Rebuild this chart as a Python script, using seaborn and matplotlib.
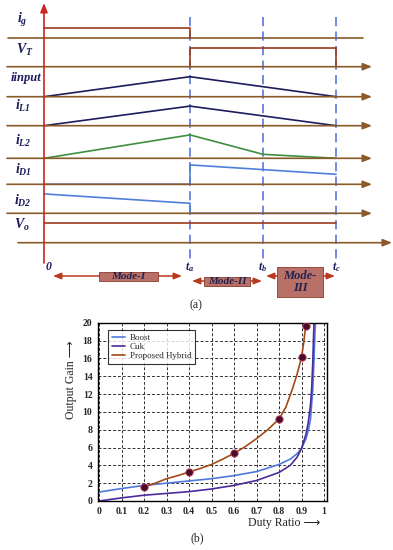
import numpy as np
import pandas as pd
import matplotlib
matplotlib.use("Agg")
import matplotlib.pyplot as plt
from matplotlib.patches import Rectangle
import seaborn as sns

# ------------------------- data: panel (b) -------------------------
duty_boost = [0.0, 0.1, 0.2, 0.3, 0.4, 0.5, 0.6, 0.7, 0.8, 0.85, 0.88, 0.9, 0.92, 0.93, 0.94, 0.95, 0.955, 0.96, 0.963]
gain_boost = [1.0, 1.4, 1.75, 2.0, 2.25, 2.5, 2.85, 3.3, 4.1, 4.7, 5.3, 5.9, 7.0, 7.9, 9.2, 12.5, 15.5, 19.0, 20.5]

duty_cuk = [0.0, 0.1, 0.2, 0.3, 0.4, 0.5, 0.6, 0.7, 0.8, 0.85, 0.88, 0.9, 0.92, 0.93, 0.94, 0.945, 0.95, 0.956]
gain_cuk = [0.0, 0.35, 0.65, 0.85, 1.05, 1.35, 1.75, 2.3, 3.2, 4.0, 4.9, 5.9, 7.5, 8.8, 10.8, 12.5, 15.5, 20.5]

duty_hybrid = [0.2, 0.25, 0.3, 0.35, 0.4, 0.45, 0.5, 0.55, 0.6, 0.65, 0.7, 0.75, 0.8, 0.83, 0.86, 0.88, 0.9, 0.91, 0.918, 0.922]
gain_hybrid = [1.6, 2.0, 2.5, 2.85, 3.25, 3.65, 4.1, 4.7, 5.35, 6.1, 7.0, 8.0, 9.2, 10.5, 12.6, 14.2, 16.1, 17.8, 19.6, 20.5]

duty_marks = [0.2, 0.4, 0.6, 0.8, 0.9, 0.918]
gain_marks = [1.6, 3.25, 5.35, 9.2, 16.1, 19.6]

series_names = ["Boost", "Cuk", "Proposed Hybrid"]
x_ticks = [0, 0.1, 0.2, 0.3, 0.4, 0.5, 0.6, 0.7, 0.8, 0.9, 1.0]
x_tick_labels = ["0", "0.1", "0.2", "0.3", "0.4", "0.5", "0.6", "0.7", "0.8", "0.9", "1"]
y_ticks = [0, 2, 4, 6, 8, 10, 12, 14, 16, 18, 20]

# ------------------------- data: panel (a) -------------------------
mode_times = [0.0, 1.0, 1.5, 2.0]          # 0, ta, tb, tc
time_labels = ["0", "$t_a$", "$t_b$", "$t_c$"]
signal_names = ["$i_g$", "$V_T$", "iinput", "$i_{L1}$", "$i_{L2}$", "$i_{D1}$", "$i_{D2}$", "$V_o$"]
mode_names = ["Mode-I", "Mode-II", "Mode-\nIII"]

ig_t = [0.0, 1.0, 1.0]
ig_v = [0.48, 0.48, 0.0]
vt_t = [1.0, 1.0, 2.0, 2.0]
vt_v = [0.0, 0.95, 0.95, 0.0]
iin_t = [0.0, 1.0, 1.5, 2.0]
iin_v = [0.0, 1.0, 0.5, 0.0]
il1_t = [0.0, 1.0, 1.5, 2.0]
il1_v = [0.0, 0.98, 0.49, 0.0]
il2_t = [0.0, 1.0, 1.5, 2.0]
il2_v = [0.0, 1.17, 0.2, 0.0]
id1_t = [0.0, 1.0, 1.0, 2.0]
id1_v = [0.0, 0.0, 0.97, 0.5]
id2_t = [0.0, 1.0, 1.0, 2.0]
id2_v = [0.97, 0.5, 0.0, 0.0]
vo_t = [0.0, 2.0]
vo_v = [0.97, 0.97]

# ------------------------- style -------------------------
sns.set_theme(style="white")
plt.rcParams['font.family'] = ['Liberation Serif', 'DejaVu Sans']
plt.rcParams['mathtext.fontset'] = 'custom'
plt.rcParams['mathtext.it'] = 'Liberation Serif:italic:bold'
plt.rcParams['mathtext.rm'] = 'Liberation Serif:italic:bold'
plt.rcParams['mathtext.bf'] = 'Liberation Serif:italic:bold'

fig = plt.figure(figsize=(3.93, 5.5), dpi=100)

# =================== panel (a) : timing diagram ===================
top_px = 315
ax_a = fig.add_axes([0, 1 - top_px / 550, 1, top_px / 550])
def px2t(px):
    return (px - 44) / 146.0
ax_a.set_xlim(px2t(0), px2t(393))
ax_a.set_ylim(top_px, 0)
ax_a.axis("off")

base_col = "#8a5a28"
navy = "#1c1c5c"
green = "#3f8f3f"
blue = "#4f7fdc"
brown = "#9a3c1c"
red = "#c8281e"
amp = 20.0

baselines = [37.7, 66.7, 96.7, 125.7, 158.3, 184.3, 213.3, 242.7]
label_xy = [(22, 20), (25, 50), (26, 78), (23, 106), (23, 141), (23, 170), (23, 201), (22, 225)]

def harrow(y, x0, x1, color=base_col, arrow=True):
    if arrow:
        ax_a.annotate("", xy=(px2t(x1), y), xytext=(px2t(x0), y),
                      arrowprops=dict(arrowstyle="-|>,head_length=0.45,head_width=0.18",
                                      color=color, lw=1.2, shrinkA=0, shrinkB=0))
    else:
        ax_a.plot([px2t(x0), px2t(x1)], [y, y], color=color, lw=1.2)

# baselines
harrow(baselines[0], 8, 363, arrow=False)
for b in baselines[1:7]:
    harrow(b, 7, 372)
harrow(baselines[7], 18, 392)

# dashed mode boundaries
for t in mode_times[1:]:
    ax_a.plot([t, t], [17, 262], color="#4a6ad8", lw=1.1, ls=(0, (6, 3.5)))

# vertical main axis
ax_a.annotate("", xy=(0, 3), xytext=(0, 263),
              arrowprops=dict(arrowstyle="-|>,head_length=0.45,head_width=0.18",
                              color=red, lw=1.2, shrinkA=0, shrinkB=0))

def wave(t, v, base, color, lw=1.2):
    ax_a.plot(t, [base - amp * x for x in v], color=color, lw=lw, solid_joinstyle="miter")

wave(ig_t, ig_v, baselines[0], brown)
wave(vt_t, vt_v, baselines[1], brown)
wave(iin_t, iin_v, baselines[2], navy)
wave(il1_t, il1_v, baselines[3], navy)
wave(il2_t, il2_v, baselines[4], green)
wave(id1_t, id1_v, baselines[5], blue)
wave(id2_t, id2_v, baselines[6], blue)
wave(vo_t, vo_v, baselines[7], brown)

for name, (lx, ly) in zip(signal_names, label_xy):
    fs = 9 if name == "iinput" else 10
    ax_a.text(px2t(lx), ly, name, ha="center", va="center", fontsize=fs,
              style="italic", fontweight="bold", color=navy)

for t, lab in zip(mode_times, time_labels):
    off = 0.03 if t == 0 else 0.0
    ax_a.text(t + off, 267, lab, ha="center", va="center", fontsize=8.5,
              style="italic", fontweight="bold", color=navy)

# mode arrows & boxes
arrow_red = "#b8391f"
mode_arrows = [(53, 182, 276), (192, 262, 281), (266, 335, 276)]
mode_boxes = [(99, 158, 272, 281), (204, 250, 277, 286), (277, 323, 267, 297)]
mode_fs = [8, 8, 9]
for (x0, x1, y), (bx0, bx1, by0, by1), name, fs in zip(mode_arrows, mode_boxes, mode_names, mode_fs):
    ax_a.annotate("", xy=(px2t(x1), y), xytext=(px2t(x0), y),
                  arrowprops=dict(arrowstyle="<|-|>,head_length=0.4,head_width=0.16",
                                  color=arrow_red, lw=1.1, shrinkA=0, shrinkB=0))
    ax_a.add_patch(Rectangle((px2t(bx0), by0), px2t(bx1) - px2t(bx0), by1 - by0,
                             facecolor="#b87068", edgecolor="#8a3a2a", lw=0.6, zorder=3))
    ax_a.text((px2t(bx0) + px2t(bx1)) / 2, (by0 + by1) / 2, name, ha="center", va="center",
              fontsize=fs, style="italic", fontweight="bold", color="#22224e", zorder=4,
              linespacing=1.1)

fig.text(196 / 393, 1 - 305 / 550, "(a)", ha="center", va="center", fontsize=8.5)

# =================== panel (b) : output gain ===================
left, right, top, bottom = 98, 326.7, 322.7, 501
ax_b = fig.add_axes([left / 393, 1 - bottom / 550, (right - left) / 393, (bottom - top) / 550])

df = pd.concat([
    pd.DataFrame({"Duty": duty_boost, "Gain": gain_boost, "Series": series_names[0]}),
    pd.DataFrame({"Duty": duty_cuk, "Gain": gain_cuk, "Series": series_names[1]}),
    pd.DataFrame({"Duty": duty_hybrid, "Gain": gain_hybrid, "Series": series_names[2]}),
], ignore_index=True)
palette = {"Boost": "#4f78dc", "Cuk": "#4a2a9c", "Proposed Hybrid": "#a24a18"}

sns.lineplot(data=df, x="Duty", y="Gain", hue="Series", hue_order=series_names,
             palette=palette, sort=False, estimator=None, linewidth=1.2, ax=ax_b)
sns.scatterplot(x=duty_marks, y=gain_marks, color="#4a0a2a", edgecolor="#c04060",
                linewidth=0.6, s=28, zorder=5, legend=False, ax=ax_b)

ax_b.set_xlim(-0.005, 1.012)
ax_b.set_ylim(0, 20)
ax_b.set_xticks(x_ticks)
ax_b.set_xticklabels(x_tick_labels)
ax_b.set_yticks(y_ticks)
ax_b.set_yticklabels([str(v) for v in y_ticks])
for lab in ax_b.get_xticklabels() + ax_b.get_yticklabels():
    lab.set_fontweight("bold")
ax_b.tick_params(labelsize=7, length=0, pad=4)
ax_b.grid(True, linestyle=(0, (3, 2)), color="#333333", lw=0.7)
for sp in ax_b.spines.values():
    sp.set_color("black")
    sp.set_linewidth(1.0)

ax_b.set_xlabel("Duty Ratio \u27f6", fontsize=8.5)
ax_b.xaxis.set_label_coords(0.815, -0.09)
ax_b.set_ylabel("Output Gain \u27f6", fontsize=8.5)
ax_b.yaxis.set_label_coords(-0.09, 0.68)

leg = ax_b.legend(loc="upper left", bbox_to_anchor=(0.044, 0.96), borderaxespad=0,
                  fontsize=6.5, frameon=True, fancybox=False, edgecolor="black",
                  handlelength=1.5, labelspacing=0.1, borderpad=0.4, handletextpad=0.5)
leg.get_frame().set_linewidth(0.8)
leg.set_title(None)

fig.text(197 / 393, 1 - 538 / 550, "(b)", ha="center", va="center", fontsize=8.5)

fig.savefig("out.png", dpi=100)
